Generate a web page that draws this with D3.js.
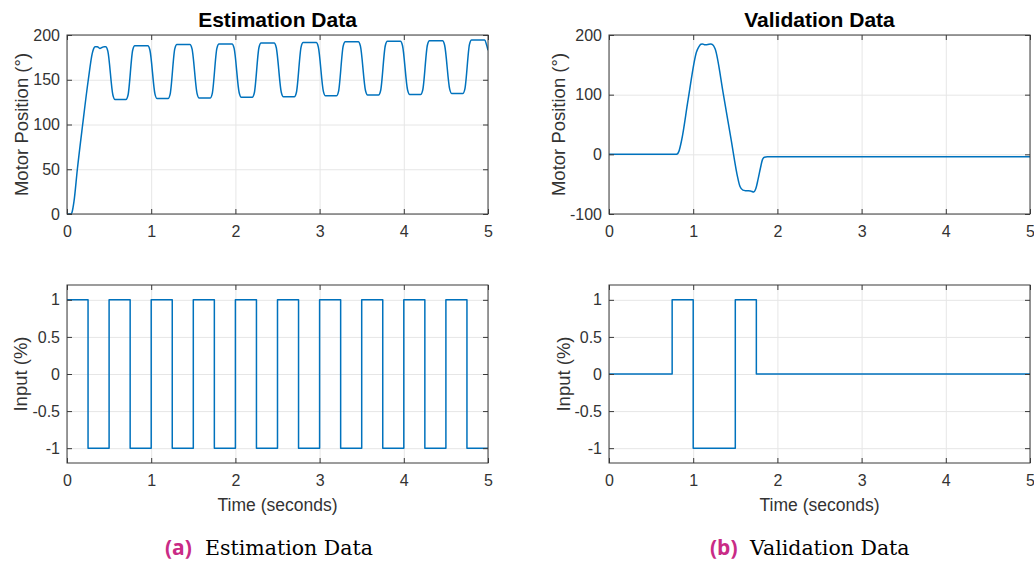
<!DOCTYPE html>
<html>
<head>
<meta charset="utf-8">
<script src="https://cdn.jsdelivr.net/npm/d3@7"></script>
<style>
  html, body { margin: 0; padding: 0; background: #fff; }
  svg { display: block; }
  .tick text { font-family: "Liberation Sans", Arial, sans-serif; font-size: 16px; fill: #333; }
</style>
</head>
<body>
<svg id="chart" width="1034" height="563"></svg>
<script>
// ---------------- DATA ----------------
const xTicks = [0, 1, 2, 3, 4, 5];
const posTicksEst = [0, 50, 100, 150, 200];
const posTicksVal = [-100, 0, 100, 200];
const inputTicks = [-1, -0.5, 0, 0.5, 1];

// Estimation: motor position (deg) vs time (s)
const estPosT = [0, 0.045, 0.06, 0.083, 0.123, 0.186, 0.253, 0.30, 0.318, 0.333, 0.36, 0.39, 0.415, 0.44, 0.46,
  0.485, 0.545, 0.57, 0.70, 0.725, 0.78, 0.805,
  0.96, 0.985, 1.045, 1.07, 1.20, 1.225, 1.28, 1.305,
  1.46, 1.485, 1.545, 1.57, 1.70, 1.725, 1.78, 1.805,
  1.96, 1.985, 2.045, 2.07, 2.20, 2.225, 2.28, 2.305,
  2.46, 2.485, 2.545, 2.57, 2.70, 2.725, 2.78, 2.805,
  2.96, 2.985, 3.045, 3.07, 3.20, 3.225, 3.28, 3.305,
  3.46, 3.485, 3.545, 3.57, 3.70, 3.725, 3.78, 3.805,
  3.96, 3.985, 4.045, 4.07, 4.20, 4.225, 4.28, 4.305,
  4.46, 4.485, 4.545, 4.57, 4.70, 4.725, 4.78, 4.805,
  4.96, 4.98, 5.0];
const estPosV = [0, 0, 2, 14, 50, 100, 150, 179.5, 185, 187, 187, 185, 186, 187, 187,
  182, 133, 128, 128, 133, 183, 188,
  188, 183, 134, 129, 129, 134, 184.5, 189.5,
  189.5, 184.5, 134.5, 129.5, 129.5, 134.5, 185, 190,
  190, 185, 135.5, 130.5, 130.5, 135.5, 186, 191,
  191, 186, 136, 131, 131, 136, 186.5, 191.5,
  191.5, 186.5, 137, 132, 132, 137, 187.5, 192.5,
  192.5, 187.5, 138, 133, 133, 138, 188, 193,
  193, 188, 138.5, 133.5, 133.5, 138.5, 188.5, 193.5,
  193.5, 188.5, 139.5, 134.5, 134.5, 139.5, 189.5, 194.5,
  194.5, 190, 183];

// Estimation: input (%) square wave
const estInT = [0, 0.25, 0.5, 0.75, 1.0, 1.25, 1.5, 1.75, 2.0, 2.25, 2.5, 2.75, 3.0, 3.25, 3.5, 3.75, 4.0, 4.25, 4.5, 4.75, 5.0];
const estInV = [1, -1, 1, -1, 1, -1, 1, -1, 1, -1, 1, -1, 1, -1, 1, -1, 1, -1, 1, -1, -1];

// Validation: motor position (deg)
const valPosT = [0, 0.79, 0.81, 0.83, 0.863, 0.94, 1.04, 1.07, 1.09, 1.11, 1.14, 1.17, 1.21, 1.23, 1.26,
  1.358, 1.45, 1.53, 1.556, 1.59, 1.63, 1.68, 1.72, 1.745, 1.77, 1.80, 1.825, 1.845, 1.88, 5.0];
const valPosV = [0, 0, 0.5, 5, 24, 92, 172, 181, 184.5, 185, 183.5, 184, 185, 184, 177,
  101, 25, -40, -54, -60, -61, -61.5, -63, -57, -42, -22, -8, -5, -4, -4];

// Validation: input (%)
const valInT = [0, 0.75, 1.0, 1.5, 1.75, 5.0];
const valInV = [0, 1, -1, 1, 0, 0];

// ---------------- DRAW ----------------
const svg = d3.select("#chart");
const FONT = '"Liberation Sans", Arial, Helvetica, sans-serif';
const LINE = "#0072BD";
const AX = "#3a3a3a";

function panel(cfg) {
  const w = cfg.x1 - cfg.x0, h = cfg.y1 - cfg.y0;
  const x = d3.scaleLinear().domain([0, 5]).range([0, w]);
  const y = d3.scaleLinear().domain(cfg.yDomain).range([h, 0]);
  const g = svg.append("g").attr("transform", `translate(${cfg.x0},${cfg.y0})`);

  // grid
  const gx = g.append("g").attr("transform", `translate(0,${h})`)
    .call(d3.axisBottom(x).tickValues(xTicks).tickSize(-h).tickFormat(""));
  const gy = g.append("g")
    .call(d3.axisLeft(y).tickValues(cfg.yTicks).tickSize(-w).tickFormat(""));
  [gx, gy].forEach(s => {
    s.select(".domain").remove();
    s.selectAll("line").attr("stroke", "#e6e6e6").attr("stroke-width", 1);
  });

  // data line
  const clipId = "clip" + cfg.id;
  g.append("clipPath").attr("id", clipId).append("rect")
    .attr("x", 0).attr("y", -2).attr("width", w).attr("height", h + 4);
  const data = cfg.t.map((t, i) => [t, cfg.v[i]]);
  const line = d3.line().x(d => x(d[0])).y(d => y(d[1])).curve(cfg.curve);
  g.append("path").datum(data)
    .attr("clip-path", `url(#${clipId})`)
    .attr("fill", "none").attr("stroke", LINE).attr("stroke-width", 1.5)
    .attr("stroke-linejoin", "round")
    .attr("d", line);

  // axes with inward ticks
  const ab = g.append("g").attr("transform", `translate(0,${h})`)
    .call(d3.axisBottom(x).tickValues(xTicks).tickSizeInner(-5).tickSizeOuter(0).tickPadding(12).tickFormat(d => String(d)));
  const al = g.append("g")
    .call(d3.axisLeft(y).tickValues(cfg.yTicks).tickSizeInner(-5).tickSizeOuter(0).tickPadding(7).tickFormat(d => String(d)));
  const at = g.append("g")
    .call(d3.axisTop(x).tickValues(xTicks).tickSizeInner(-5).tickSizeOuter(0).tickFormat(""));
  const ar = g.append("g").attr("transform", `translate(${w},0)`)
    .call(d3.axisRight(y).tickValues(cfg.yTicks).tickSizeInner(-5).tickSizeOuter(0).tickFormat(""));
  [ab, al, at, ar].forEach(s => {
    s.select(".domain").remove();
    s.selectAll(".tick line").attr("stroke", AX);
  });

  // box
  g.append("rect").attr("x", 0).attr("y", 0).attr("width", w).attr("height", h)
    .attr("fill", "none").attr("stroke", AX).attr("stroke-width", 1);

  // y label
  svg.append("text")
    .attr("transform", `translate(${cfg.labelX},${cfg.y0 + h / 2}) rotate(-90)`)
    .attr("text-anchor", "middle")
    .attr("font-family", FONT).attr("font-size", 18.5).attr("fill", "#333")
    .text(cfg.yLabel);

  if (cfg.title) {
    svg.append("text").attr("x", cfg.x0 + w / 2).attr("y", 27)
      .attr("text-anchor", "middle")
      .attr("font-family", FONT).attr("font-size", 21).attr("font-weight", "bold").attr("fill", "#000")
      .text(cfg.title);
  }
  if (cfg.xLabel) {
    svg.append("text").attr("x", cfg.x0 + w / 2).attr("y", 511)
      .attr("text-anchor", "middle")
      .attr("font-family", FONT).attr("font-size", 17.5).attr("fill", "#333")
      .text(cfg.xLabel);
  }
}

panel({ id: "tl", x0: 67, x1: 488, y0: 35, y1: 214, yDomain: [0, 200], yTicks: posTicksEst,
  t: estPosT, v: estPosV, curve: d3.curveMonotoneX, yLabel: "Motor Position (°)", labelX: 28,
  title: "Estimation Data" });
panel({ id: "bl", x0: 67, x1: 488, y0: 285, y1: 463, yDomain: [-1.2, 1.2], yTicks: inputTicks,
  t: estInT, v: estInV, curve: d3.curveStepAfter, yLabel: "Input (%)", labelX: 27,
  xLabel: "Time (seconds)" });
panel({ id: "tr", x0: 609, x1: 1030, y0: 35, y1: 214, yDomain: [-100, 200], yTicks: posTicksVal,
  t: valPosT, v: valPosV, curve: d3.curveMonotoneX, yLabel: "Motor Position (°)", labelX: 565,
  title: "Validation Data" });
panel({ id: "br", x0: 609, x1: 1030, y0: 285, y1: 463, yDomain: [-1.2, 1.2], yTicks: inputTicks,
  t: valInT, v: valInV, curve: d3.curveStepAfter, yLabel: "Input (%)", labelX: 570,
  xLabel: "Time (seconds)" });

// captions
function caption(tagX, textX, tag, txt) {
  svg.append("text").attr("x", tagX).attr("y", 555)
    .attr("font-family", '"Open Sans", "Noto Sans", sans-serif').attr("font-weight", "bold")
    .attr("font-size", 21).attr("fill", "#c92b86").text(tag);
  svg.append("text").attr("x", textX).attr("y", 555)
    .attr("font-family", '"DejaVu Serif", "Liberation Serif", serif')
    .attr("font-size", 20.5).attr("fill", "#000").text(txt);
}
caption(165, 205, "(a)", "Estimation Data");
caption(710, 750, "(b)", "Validation Data");
</script>
</body>
</html>
